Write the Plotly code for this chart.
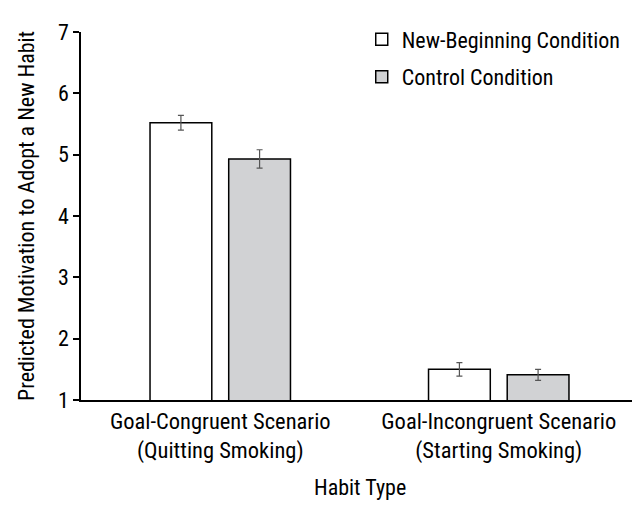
import plotly.graph_objects as go

categories = ["Goal-Congruent Scenario<br>(Quitting Smoking)", "Goal-Incongruent Scenario<br>(Starting Smoking)"]
new_beginning = [5.52, 1.50]
new_beginning_err = [0.12, 0.11]
control = [4.93, 1.41]
control_err = [0.15, 0.09]
y_ticks = [1, 2, 3, 4, 5, 6, 7]

FONT = "Liberation Sans Narrow, Roboto Condensed, Arial Narrow, sans-serif"

fig = go.Figure()
fig.add_trace(go.Bar(
    x=categories, y=new_beginning, name="New-Beginning Condition",
    marker=dict(color="white", line=dict(color="black", width=1.5)),
    error_y=dict(type="data", array=new_beginning_err, color="#555555", thickness=1.2, width=3),
    legendgroup="a",
))
fig.add_trace(go.Bar(
    x=categories, y=control, name="Control Condition",
    marker=dict(color="#d1d2d4", line=dict(color="black", width=1.5)),
    error_y=dict(type="data", array=control_err, color="#555555", thickness=1.2, width=3),
    legendgroup="b",
))

fig.add_annotation(
    text="Habit Type", xref="paper", yref="paper", x=0.5, y=0, yshift=-87,
    xanchor="center", yanchor="middle", showarrow=False,
    font=dict(family=FONT, size=22, color="black"),
)

fig.update_layout(
    width=640, height=505,
    margin=dict(l=73, r=10, t=24, b=113),
    paper_bgcolor="white", plot_bgcolor="white",
    barmode="group", bargap=0.435, bargroupgap=0.215,
    font=dict(family=FONT, size=21, color="black"),
    showlegend=True,
    legend=dict(x=0.504, y=1.037, xanchor="left", yanchor="top",
                font=dict(family=FONT, size=22), tracegroupgap=6,
                traceorder="grouped", bgcolor="rgba(0,0,0,0)"),
    xaxis=dict(
        automargin=False,
        showline=True, linecolor="black", linewidth=1.5,
        ticks="", showgrid=False,
        tickfont=dict(family=FONT, size=22.5),
    ),
    yaxis=dict(
        automargin=False,
        range=[1, 7], tickvals=y_ticks,
        showline=True, linecolor="black", linewidth=1.5,
        ticks="outside", ticklen=6, tickwidth=1.5, tickcolor="black",
        showgrid=False, zeroline=False,
        title=dict(text="Predicted Motivation to Adopt a New Habit", font=dict(family=FONT, size=22), standoff=17),
        tickfont=dict(family=FONT, size=22),
    ),
)

fig.write_html("out.html")
